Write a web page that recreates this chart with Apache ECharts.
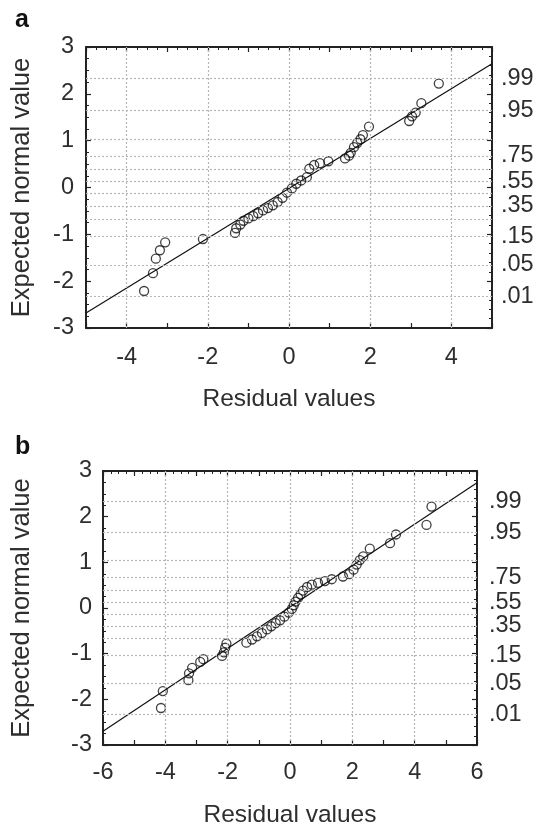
<!DOCTYPE html>
<html><head><meta charset="utf-8">
<script src="https://cdn.jsdelivr.net/npm/echarts@6/dist/echarts.min.js"></script>
<style>html,body{margin:0;padding:0;background:#fff}#c{width:539px;height:830px}</style>
</head><body><div id="c"></div>
<script>
// ---- Panel a data ----
const residA = [-3.57,-3.35,-3.28,-3.18,-3.05,-2.12,
  -1.33,-1.30,-1.20,-1.12,-1.00,-0.88,-0.76,-0.64,-0.52,-0.40,-0.28,-0.16,-0.05,0.07,0.18,0.30,0.44,0.50,0.62,0.76,0.97,
  1.38,1.48,1.52,1.60,1.68,1.76,1.82,1.97,2.96,3.03,3.12,3.26,3.69];
const expectedA = [-2.21,-1.83,-1.52,-1.34,-1.17,-1.10,
  -0.97,-0.87,-0.79,-0.71,-0.66,-0.61,-0.55,-0.49,-0.44,-0.38,-0.31,-0.22,-0.11,-0.02,0.08,0.15,0.22,0.40,0.48,0.52,0.56,
  0.62,0.68,0.74,0.86,0.95,1.03,1.12,1.30,1.42,1.52,1.60,1.80,2.22];
const fitAx = [-5, 5];
const fitAy = [-2.68, 2.64];
// ---- Panel b data ----
const residB = [-4.14,-4.08,-3.26,-3.24,-3.14,-2.88,-2.78,-2.18,-2.12,-2.08,-2.04,
  -1.40,-1.22,-1.06,-0.90,-0.74,-0.60,-0.46,-0.32,-0.18,-0.04,0.06,0.12,0.18,0.26,0.34,0.42,0.55,0.70,0.90,1.12,1.34,
  1.70,1.90,2.04,2.14,2.24,2.35,2.56,3.21,3.40,4.38,4.54];
const expectedB = [-2.19,-1.82,-1.58,-1.43,-1.31,-1.18,-1.12,-1.05,-0.97,-0.87,-0.78,
  -0.76,-0.69,-0.62,-0.55,-0.47,-0.40,-0.33,-0.27,-0.19,-0.10,-0.02,0.06,0.14,0.22,0.30,0.38,0.46,0.51,0.55,0.59,0.63,
  0.69,0.74,0.84,0.95,1.05,1.13,1.30,1.42,1.61,1.82,2.22];
const fitBx = [-6, 6];
const fitBy = [-2.70, 2.74];
// ---- axes / ticks ----
const yRange = [-3, 3];
const xRangeA = [-5, 5];
const xRangeB = [-6, 6];
const gridX = [-4, -2, 0, 2, 4];
const probLabels = ['.01', '.05', '.15', '.35', '.55', '.75', '.95', '.99'];
const probZ = [-2.326, -1.645, -1.036, -0.385, 0.126, 0.674, 1.645, 2.326];
const gridZ = [-2.326, -1.645, -1.036, -0.674, -0.385, -0.126, 0.126, 0.385, 0.674, 1.036, 1.645, 2.326];

const FONT = "'Liberation Sans', Arial, sans-serif";
const TXT = '#2e2e2e';
const AX = '#222';
const lblFont = 23.5;
const xNameFont = 24.5;
const yNameFont = 25.5;

function bottomX(grid, range, nameGap, margin) {
  return {
    type: 'value', gridIndex: grid, position: 'bottom', min: range[0], max: range[1], interval: 1,
    name: 'Residual values', nameLocation: 'middle', nameGap: nameGap,
    nameTextStyle: {fontFamily: FONT, fontSize: xNameFont, color: TXT},
    axisLine: {show: true, onZero: false, lineStyle: {color: AX, width: 2}},
    axisTick: {show: true, inside: true, length: 5, lineStyle: {color: AX, width: 1.2}},
    axisLabel: {fontFamily: FONT, fontSize: lblFont, color: TXT, margin: margin,
      formatter: v => (Math.round(v) % 2 === 0 ? String(v) : '')},
    splitLine: {show: false}
  };
}
function topX(grid, range) {
  return {
    type: 'value', gridIndex: grid, position: 'top', min: range[0], max: range[1], interval: 1,
    axisLine: {show: true, onZero: false, lineStyle: {color: AX, width: 2}},
    axisTick: {show: true, inside: true, length: 5, lineStyle: {color: AX, width: 1.2}},
    minorTick: {show: true, splitNumber: 4, length: 3, lineStyle: {color: AX, width: 1}},
    axisLabel: {show: false}, splitLine: {show: false}
  };
}
function leftY(grid, nameGap, margin) {
  return {
    type: 'value', gridIndex: grid, position: 'left', min: yRange[0], max: yRange[1], interval: 1,
    name: 'Expected normal value', nameLocation: 'middle', nameGap: nameGap, nameRotate: 90,
    nameTextStyle: {fontFamily: FONT, fontSize: yNameFont, color: TXT},
    axisLine: {show: true, onZero: false, lineStyle: {color: AX, width: 2}},
    axisTick: {show: true, inside: true, length: 5, lineStyle: {color: AX, width: 1.2}},
    minorTick: {show: true, splitNumber: 4, length: 3, lineStyle: {color: AX, width: 1}},
    axisLabel: {fontFamily: FONT, fontSize: lblFont, color: TXT, margin: margin},
    splitLine: {show: false}
  };
}
function rightY(grid, margin) {
  return {
    type: 'value', gridIndex: grid, position: 'right', min: yRange[0], max: yRange[1], interval: 1,
    axisLine: {show: true, onZero: false, lineStyle: {color: AX, width: 2}},
    axisTick: {show: true, inside: true, length: 5, lineStyle: {color: AX, width: 1.2}},
    minorTick: {show: true, splitNumber: 5, length: 3, lineStyle: {color: AX, width: 1}},
    axisLabel: {fontFamily: FONT, fontSize: lblFont, color: TXT, margin: margin,
      customValues: probZ, showMinLabel: true, showMaxLabel: true,
      formatter: v => { const i = probZ.findIndex(z => Math.abs(z - v) < 1e-6); return i >= 0 ? probLabels[i] : ''; }},
    splitLine: {show: false}
  };
}
function gridMarks() {
  const data = gridZ.map(z => ({yAxis: z})).concat(gridX.map(x => ({xAxis: x})));
  return {
    silent: true, symbol: 'none', animation: false, label: {show: false},
    lineStyle: {color: '#b5b5b5', type: [2, 2], width: 1.2}, emphasis: {disabled: true},
    data: data
  };
}
function scatter(xi, yi, xs, ys) {
  return {
    type: 'scatter', xAxisIndex: xi, yAxisIndex: yi, symbol: 'circle', symbolSize: 9,
    itemStyle: {color: 'rgba(0,0,0,0)', borderColor: '#111', borderWidth: 1.3},
    emphasis: {disabled: true}, z: 3,
    data: xs.map((x, i) => [x, ys[i]]),
    markLine: gridMarks()
  };
}
function fit(xi, yi, xs, ys) {
  return {
    type: 'line', xAxisIndex: xi, yAxisIndex: yi, symbol: 'none', z: 2,
    lineStyle: {color: '#111', width: 1.2}, emphasis: {disabled: true},
    data: xs.map((x, i) => [x, ys[i]])
  };
}

const chart = echarts.init(document.getElementById('c'));
chart.setOption({
  animation: false,
  backgroundColor: '#fff',
  title: [
    {text: 'a', left: 10, top: 3, textStyle: {fontFamily: FONT, fontSize: 25, fontWeight: 'bold', color: '#111'}},
    {text: 'b', left: 10, top: 430, textStyle: {fontFamily: FONT, fontSize: 25, fontWeight: 'bold', color: '#111'}}
  ],
  grid: [
    {left: 86, width: 406, top: 47, height: 281},
    {left: 103, width: 374, top: 471, height: 274}
  ],
  xAxis: [bottomX(0, xRangeA, 59, 18), topX(0, xRangeA), bottomX(1, xRangeB, 58, 16), topX(1, xRangeB)],
  yAxis: [leftY(0, 51, 12), rightY(0, 9), leftY(1, 68, 11), rightY(1, 12)],
  series: [
    scatter(0, 0, residA, expectedA), fit(0, 0, fitAx, fitAy),
    scatter(2, 2, residB, expectedB), fit(2, 2, fitBx, fitBy)
  ]
});
</script></body></html>
